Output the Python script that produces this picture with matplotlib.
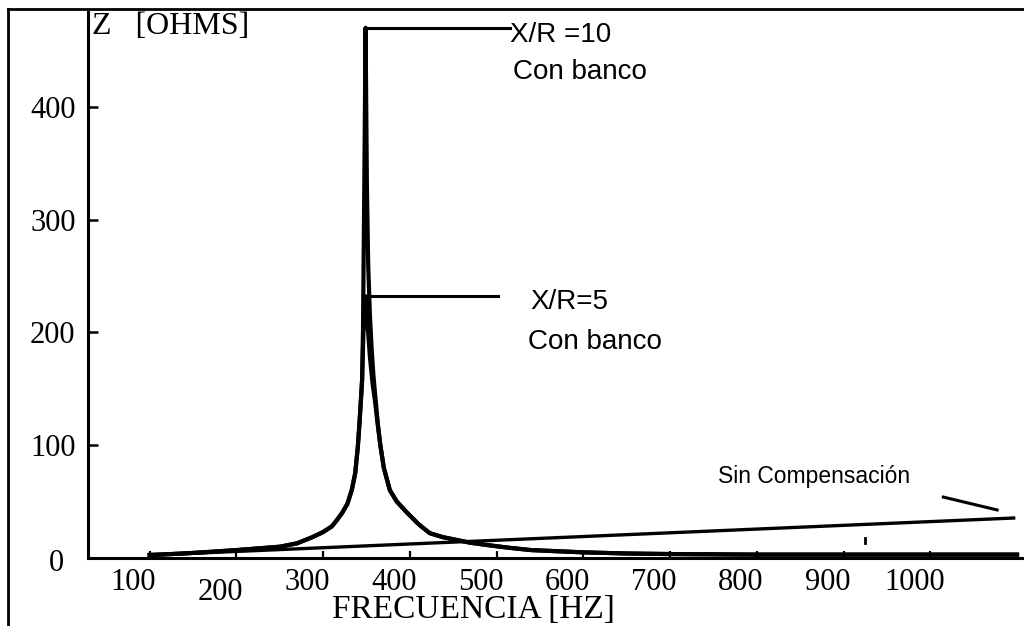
import matplotlib
matplotlib.use("Agg")
import matplotlib.pyplot as plt
from matplotlib.lines import Line2D
from matplotlib.transforms import ScaledTranslation

# Impedance vs frequency
freq_xr10 = [100, 125, 150, 175, 200, 225, 250, 270, 288, 300, 310, 316, 322,
             328, 333, 337, 340, 342, 344, 345, 346, 347.5, 349, 350.5, 352,
             354, 356, 358, 360, 363, 366, 370, 377, 385, 397, 410, 423, 438,
             454, 470, 489, 515, 540, 570, 600, 650, 700, 800, 900, 1000, 1100]
z_xr10 = [2.7, 3.5, 4.5, 5.7, 7, 8.5, 10, 13, 18.6, 23, 28, 33.7, 40,
          48, 60, 75, 98, 120, 145, 158, 202, 330, 470, 330, 260,
          215, 185, 162, 145, 120, 100, 80, 60, 50, 40, 30, 22, 18.5,
          16, 13.5, 11.5, 9, 7, 6, 5, 4, 3.5, 3, 3, 3, 3]

freq_xr5 = [100, 125, 150, 175, 200, 225, 250, 270, 288, 300, 310, 316, 322,
            328, 333, 337, 340, 342, 344, 345, 346.5, 349, 351.5, 354, 357,
            360, 363, 366, 370, 377, 385, 397, 410, 423, 438, 454, 470, 489,
            515, 540, 570, 600, 650, 700, 800, 900, 1000, 1100]
z_xr5 = [2.7, 3.5, 4.5, 5.7, 7, 8.5, 10, 13, 18.6, 23, 28, 33.7, 40,
         48, 60, 75, 98, 120, 145, 158, 200, 232, 205, 178, 155,
         138, 118, 100, 80, 60, 50, 40, 30, 22, 18.5, 16, 13.5, 11.5,
         9, 7, 6, 5, 4, 3.5, 3, 3, 3, 3]

freq_sin = [100, 1098]
z_sin = [2.5, 35.5]

x_ticks = [100, 200, 300, 400, 500, 600, 700, 800, 900, 1000]
y_ticks = [0, 100, 200, 300, 400]

SERIF = "Liberation Serif"
SANS = "Liberation Sans"
LINE_W = 3.0

fig = plt.figure(figsize=(10.24, 6.26), dpi=100)
ax = fig.add_axes([88 / 1024, 1 - 558 / 626, 1 - 88 / 1024, 546 / 626])
ax.set_xlim(29, 1108)
ax.set_ylim(0, 484)

# curves
ax.plot(freq_sin, z_sin, color="black", lw=LINE_W * 0.8, solid_capstyle="butt")
ax.plot(freq_xr5, z_xr5, color="black", lw=LINE_W)
ax.plot(freq_xr10, z_xr10, color="black", lw=LINE_W)

# leader lines to the labels
peak10 = max(z_xr10)
f_peak10 = freq_xr10[z_xr10.index(peak10)]
ax.plot([f_peak10, 515], [peak10, peak10], color="black", lw=2.2)
peak5 = max(z_xr5)
f_peak5 = freq_xr5[z_xr5.index(peak5)]
ax.plot([f_peak5, 502], [peak5, peak5], color="black", lw=2.2)
ax.plot([1015, 1077], [54, 42.6], color="black", lw=2.2)
# small scan speck
ax.plot([925, 925], [13.5, 18], color="black", lw=2)

# labels
ax.text(515, 457, "X/R =10", family=SANS, fontsize=20, va="baseline")
ax.text(519, 425, "Con banco", family=SANS, fontsize=20, va="baseline")
ax.text(539, 221, "X/R=5", family=SANS, fontsize=20, va="baseline")
ax.text(536, 185.5, "Con banco", family=SANS, fontsize=20, va="baseline")
ax.text(755, 66.5, "Sin Compensación", family=SANS, fontsize=16.5,
        va="baseline")

ax.text(4 / 936, 1.0, "Z   [OHMS]", transform=ax.transAxes, family=SERIF,
        fontsize=23, va="top", ha="left")
fig.text(473 / 1024, 1 - 618 / 626, "FRECUENCIA [HZ]", family=SERIF,
         fontsize=24, ha="center", va="baseline")

# axes styling
for side in ["top", "right"]:
    ax.spines[side].set_visible(False)
for side in ["left", "bottom"]:
    ax.spines[side].set_linewidth(2.2)

ax.set_xticks(x_ticks, [str(t) for t in x_ticks])
ax.set_yticks(y_ticks, [str(t) for t in y_ticks])
ax.tick_params(axis="x", direction="in", length=5, width=1.6, pad=7,
               labelsize=22)
ax.tick_params(axis="y", direction="in", length=7, width=1.8, pad=9,
               labelsize=22)
for lab in ax.get_xticklabels() + ax.get_yticklabels():
    lab.set_family(SERIF)

# the scan has the x labels slightly left of their ticks
for lab in ax.get_xticklabels():
    dy = -10 / 100 if lab.get_text() == "200" else 0
    lab.set_transform(lab.get_transform()
                      + ScaledTranslation(-16 / 100, dy, fig.dpi_scale_trans))
for lab in ax.get_yticklabels():
    if lab.get_text() == "0":
        lab.set_transform(lab.get_transform()
                          + ScaledTranslation(-12 / 100, -2 / 100, fig.dpi_scale_trans))

# outer frame of the scanned page
fig.add_artist(Line2D([8 / 1024, 8 / 1024], [0, 1 - 9 / 626],
                      transform=fig.transFigure, color="black", lw=2))
fig.add_artist(Line2D([8 / 1024, 1], [1 - 9 / 626, 1 - 9 / 626],
                      transform=fig.transFigure, color="black", lw=2))

fig.savefig("out.png", dpi=100)
